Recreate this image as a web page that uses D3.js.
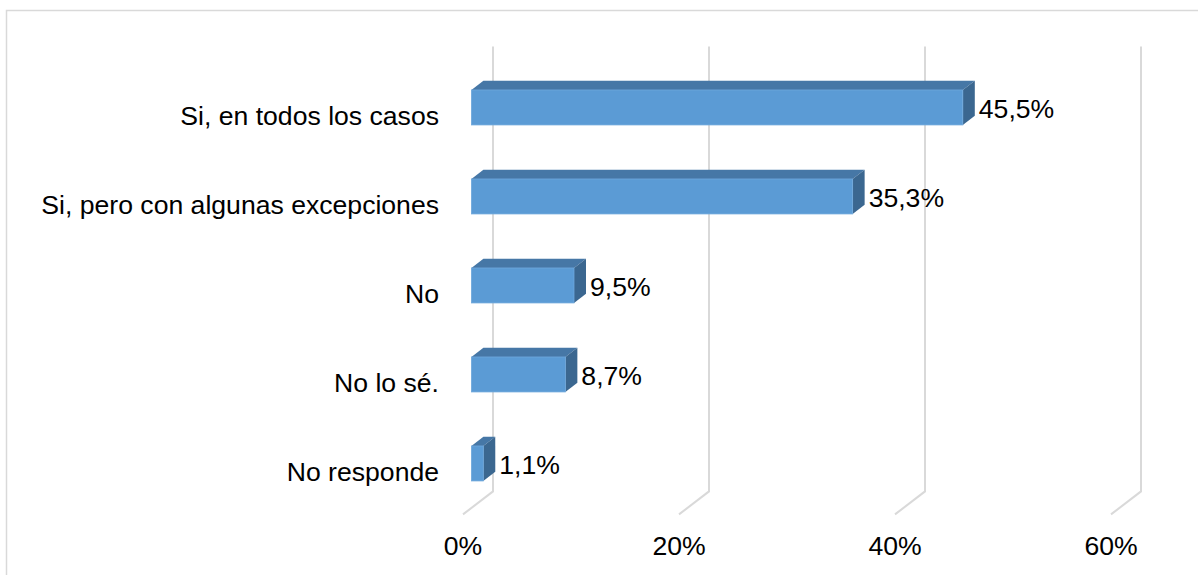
<!DOCTYPE html>
<html>
<head>
<meta charset="utf-8">
<script src="https://cdn.jsdelivr.net/npm/d3@7"></script>
<style>
  html, body { margin: 0; padding: 0; background: #fff; }
  svg { display: block; }
  text { font-family: "Liberation Sans", Arial, sans-serif; fill: #000; }
</style>
</head>
<body>
<svg id="chart" width="1198" height="575"></svg>
<script>
const categories = ["Si, en todos los casos", "Si, pero con algunas excepciones", "No", "No lo sé.", "No responde"];
const values = [45.5, 35.3, 9.5, 8.7, 1.1];
const valueLabels = ["45,5%", "35,3%", "9,5%", "8,7%", "1,1%"];
const tickValues = [0, 20, 40, 60];
const tickLabels = ["0%", "20%", "40%", "60%"];

const svg = d3.select("#chart");
const fontSize = 26.6;

// outer frame
svg.append("rect")
  .attr("x", 6.5).attr("y", 10.5).attr("width", 1210).attr("height", 600)
  .attr("fill", "none").attr("stroke", "#d9d9d9").attr("stroke-width", 1.5);

// 3D geometry: front plane scales, depth vector
const depth = { dx: 30, dy: -23 };
const x = d3.scaleLinear().domain([0, 60]).range([463, 1111]);
const y = d3.scaleBand().domain(categories).range([69.4, 514.4]).padding(0);
const barFrontF = 0.28, barBackF = 0.68;
const barH = y.bandwidth() * 0.393;

// gridlines: back wall verticals + floor diagonals
const grid = svg.append("g").attr("stroke", "#d9d9d9").attr("stroke-width", 2).attr("fill", "none");
const backTop = y.range()[0] + depth.dy;
const backBottom = y.range()[1] + depth.dy;
tickValues.forEach(t => {
  const xb = x(t) + depth.dx;
  grid.append("path")
    .attr("d", `M${xb},${backTop}L${xb},${backBottom}L${x(t)},${y.range()[1]}`);
});

// bars
const bars = svg.append("g");
categories.forEach((c, i) => {
  const cy = y(c) + y.bandwidth() / 2;
  const ox = depth.dx * barFrontF, oy = depth.dy * barFrontF;
  const ddx = depth.dx * (barBackF - barFrontF), ddy = depth.dy * (barBackF - barFrontF);
  const x0 = x(0) + ox, x1 = x(values[i]) + ox;
  const yc = cy + oy;
  const y0 = yc - barH / 2, y1 = yc + barH / 2;
  bars.append("path")
    .attr("d", `M${x0},${y0}L${x0 + ddx},${y0 + ddy}L${x1 + ddx},${y0 + ddy}L${x1},${y0}Z`)
    .attr("fill", "#4677a6");
  bars.append("path")
    .attr("d", `M${x1},${y0}L${x1 + ddx},${y0 + ddy}L${x1 + ddx},${y1 + ddy}L${x1},${y1}Z`)
    .attr("fill", "#3b6790");
  bars.append("rect")
    .attr("x", x0).attr("y", y0).attr("width", x1 - x0).attr("height", barH)
    .attr("fill", "#5b9bd5").attr("stroke", "#6fa8dc").attr("stroke-width", 0.8);
  svg.append("text")
    .attr("x", x1 + ddx + 4)
    .attr("y", yc + 1 + fontSize * 0.358)
    .attr("font-size", fontSize)
    .text(valueLabels[i]);
  svg.append("text")
    .attr("x", 439)
    .attr("y", cy + 2 + fontSize * 0.358)
    .attr("text-anchor", "end")
    .attr("font-size", fontSize)
    .text(c);
});

// tick labels
tickValues.forEach((t, i) => {
  svg.append("text")
    .attr("x", x(t))
    .attr("y", 555)
    .attr("text-anchor", "middle")
    .attr("font-size", fontSize)
    .text(tickLabels[i]);
});
</script>
</body>
</html>
